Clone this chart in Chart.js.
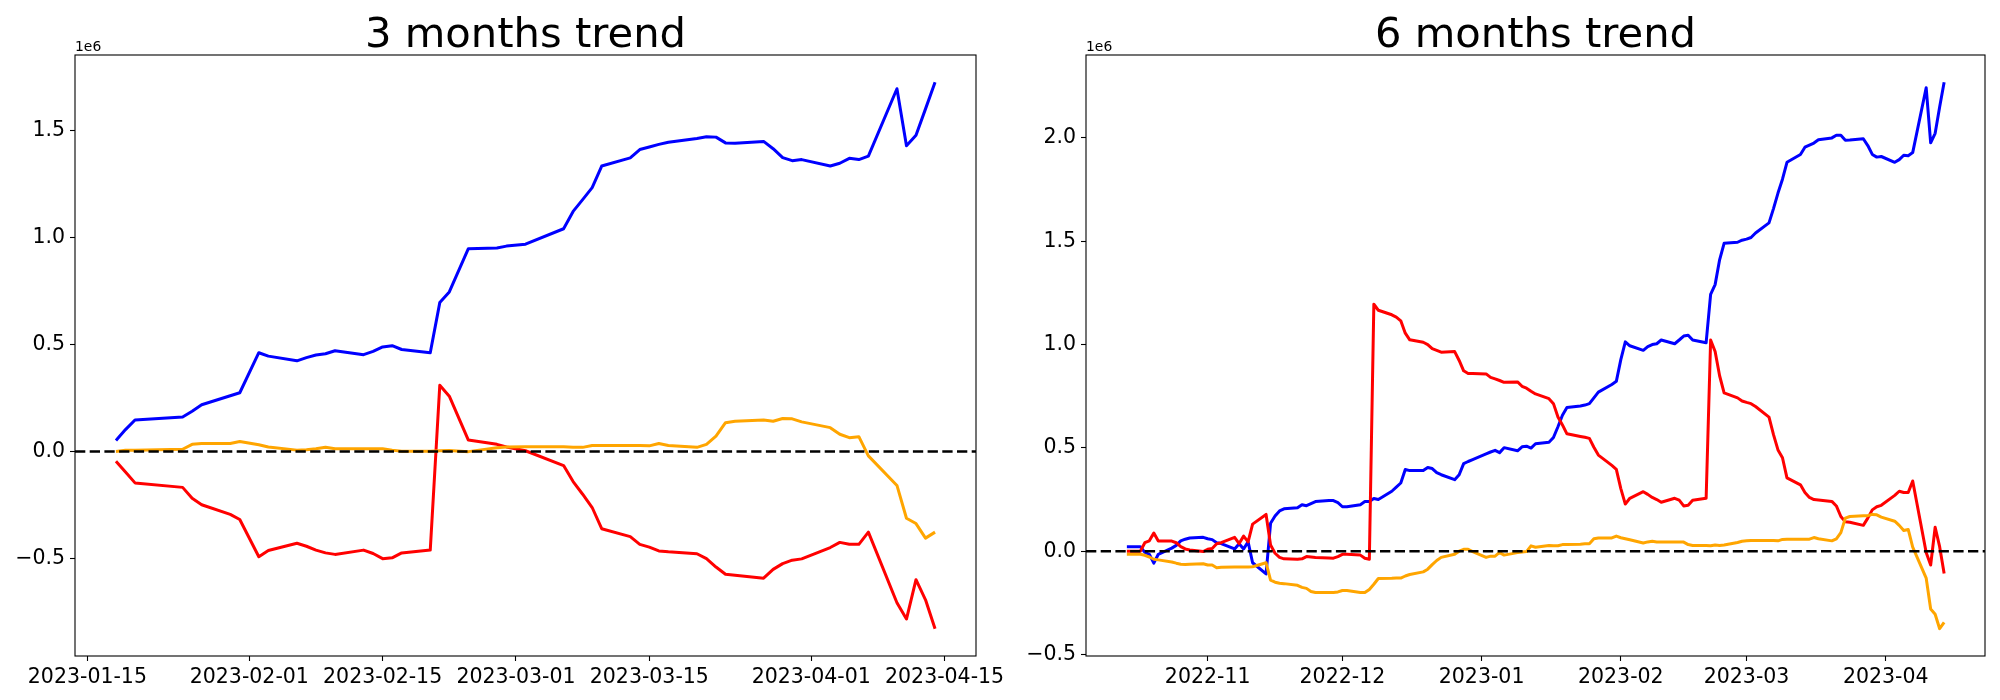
<!DOCTYPE html>
<html><head><meta charset="utf-8">
<script src="https://cdn.jsdelivr.net/npm/chart.js@4.4.0/dist/chart.umd.min.js"></script>
<style>
html,body{margin:0;padding:0;background:#fff;}
#wrap{position:relative;width:2000px;height:700px;overflow:hidden;background:#fff;}
canvas{position:absolute;top:0;}
</style></head><body>
<div id="wrap">
<canvas id="c3" width="1010" height="700" style="left:0;width:1010px;height:700px"></canvas>
<canvas id="c6" width="990" height="700" style="left:1010px;width:990px;height:700px"></canvas>
</div>
<script>
// ---------- 3 months (values in units of 1e6) ----------
const dates3 = [
 '2023-01-18','2023-01-19','2023-01-20','2023-01-25','2023-01-26','2023-01-27','2023-01-30','2023-01-31',
 '2023-02-02','2023-02-03','2023-02-06','2023-02-07','2023-02-08','2023-02-09','2023-02-10','2023-02-13','2023-02-14','2023-02-15','2023-02-16','2023-02-17','2023-02-20','2023-02-21','2023-02-22','2023-02-24','2023-02-27','2023-02-28',
 '2023-03-02','2023-03-06','2023-03-07','2023-03-08','2023-03-09','2023-03-10','2023-03-13','2023-03-14','2023-03-15','2023-03-16','2023-03-17','2023-03-20','2023-03-21','2023-03-22','2023-03-23','2023-03-24','2023-03-27','2023-03-28','2023-03-29','2023-03-30','2023-03-31',
 '2023-04-03','2023-04-04','2023-04-05','2023-04-06','2023-04-07','2023-04-10','2023-04-11','2023-04-12','2023-04-13','2023-04-14'
];
const blue3 = [
 0.051,0.102,0.147,0.161,0.188,0.218,0.260,0.274,
 0.461,0.445,0.423,0.438,0.450,0.456,0.470,0.452,0.467,0.488,0.494,0.476,0.461,0.695,0.745,0.947,0.950,0.959,
 0.968,1.040,1.121,1.176,1.232,1.333,1.371,1.410,1.422,1.434,1.444,1.462,1.470,1.468,1.441,1.439,1.448,1.414,1.372,1.358,1.363,
 1.333,1.346,1.369,1.363,1.379,1.694,1.428,1.477,1.600,1.724
];
const red3 = [
 -0.046,-0.096,-0.147,-0.168,-0.219,-0.249,-0.294,-0.318,
 -0.492,-0.463,-0.429,-0.443,-0.461,-0.474,-0.481,-0.461,-0.477,-0.501,-0.497,-0.474,-0.461,0.309,0.258,0.053,0.033,0.021,
 0.003,-0.066,-0.141,-0.200,-0.262,-0.361,-0.398,-0.434,-0.447,-0.465,-0.469,-0.478,-0.501,-0.540,-0.574,-0.578,-0.592,-0.551,-0.524,-0.508,-0.502,
 -0.449,-0.425,-0.434,-0.434,-0.377,-0.707,-0.783,-0.599,-0.693,-0.828
];
const orange3 = [
 0.000,0.006,0.006,0.010,0.033,0.037,0.037,0.046,
 0.031,0.021,0.006,0.008,0.012,0.019,0.012,0.013,0.013,0.013,0.006,0.001,0.001,0.003,0.004,-0.001,0.017,0.021,
 0.022,0.022,0.019,0.019,0.028,0.028,0.028,0.028,0.026,0.037,0.028,0.019,0.033,0.071,0.134,0.141,0.147,0.141,0.154,0.152,0.138,
 0.111,0.080,0.064,0.069,-0.021,-0.159,-0.312,-0.337,-0.405,-0.377
];
const xTickDates3 = ['2023-01-15','2023-02-01','2023-02-15','2023-03-01','2023-03-15','2023-04-01','2023-04-15'];
const xTickLabels3 = ['2023-01-15','2023-02-01','2023-02-15','2023-03-01','2023-03-15','2023-04-01','2023-04-15'];
const yTicks3 = [-0.5, 0, 0.5, 1.0, 1.5];

// ---------- 6 months (values in units of 1e6) ----------
const dates6 = [
 '2022-10-14',
 '2022-10-17','2022-10-18','2022-10-19','2022-10-20','2022-10-21',
 '2022-10-24','2022-10-25','2022-10-26','2022-10-27','2022-10-28',
 '2022-10-31','2022-11-01','2022-11-02','2022-11-03','2022-11-04',
 '2022-11-07','2022-11-08','2022-11-09','2022-11-10','2022-11-11',
 '2022-11-14','2022-11-15','2022-11-16','2022-11-17','2022-11-18',
 '2022-11-21','2022-11-22','2022-11-23','2022-11-24','2022-11-25',
 '2022-11-28','2022-11-29','2022-11-30','2022-12-01','2022-12-02',
 '2022-12-05','2022-12-06','2022-12-07','2022-12-08','2022-12-09',
 '2022-12-12','2022-12-13','2022-12-14','2022-12-15','2022-12-16',
 '2022-12-19','2022-12-20','2022-12-21','2022-12-22','2022-12-23',
 '2022-12-26','2022-12-27','2022-12-28','2022-12-29','2022-12-30',
 '2023-01-02','2023-01-03','2023-01-04','2023-01-05','2023-01-06',
 '2023-01-09','2023-01-10','2023-01-11','2023-01-12','2023-01-13',
 '2023-01-16','2023-01-17','2023-01-18','2023-01-19','2023-01-20',
 '2023-01-23','2023-01-24','2023-01-25','2023-01-26','2023-01-27',
 '2023-01-30','2023-01-31','2023-02-01','2023-02-02','2023-02-03',
 '2023-02-06','2023-02-07','2023-02-08','2023-02-09','2023-02-10',
 '2023-02-13','2023-02-14','2023-02-15','2023-02-16','2023-02-17',
 '2023-02-20','2023-02-21','2023-02-22','2023-02-23','2023-02-24',
 '2023-02-27','2023-02-28','2023-03-01','2023-03-02','2023-03-03',
 '2023-03-06','2023-03-07','2023-03-08','2023-03-09','2023-03-10',
 '2023-03-13','2023-03-14','2023-03-15','2023-03-16','2023-03-17',
 '2023-03-20','2023-03-21','2023-03-22','2023-03-23','2023-03-24',
 '2023-03-27','2023-03-28','2023-03-29','2023-03-30','2023-03-31',
 '2023-04-03','2023-04-04','2023-04-05','2023-04-06','2023-04-07',
 '2023-04-10','2023-04-11','2023-04-12','2023-04-13','2023-04-14'
];
const blue6 = [
 0.022,
 0.022,-0.006,-0.015,-0.058,-0.015,
 0.015,0.028,0.050,0.058,0.064,
 0.067,0.060,0.056,0.041,0.037,
 0.011,0.036,0.011,0.045,-0.056,
 -0.110,0.135,0.170,0.195,0.205,
 0.210,0.225,0.220,0.230,0.240,
 0.245,0.245,0.235,0.215,0.215,
 0.225,0.240,0.240,0.255,0.250,
 0.290,0.310,0.330,0.395,0.390,
 0.390,0.405,0.400,0.380,0.370,
 0.346,0.370,0.424,0.434,0.443,
 0.471,0.480,0.488,0.477,0.501,
 0.486,0.505,0.508,0.499,0.520,
 0.527,0.550,0.602,0.658,0.695,
 0.703,0.707,0.714,0.742,0.770,
 0.807,0.822,0.927,1.013,0.994,
 0.972,0.990,1.000,1.004,1.022,
 1.004,1.022,1.041,1.045,1.022,
 1.009,1.243,1.290,1.410,1.490,
 1.495,1.505,1.510,1.518,1.540,
 1.589,1.658,1.733,1.800,1.882,
 1.920,1.955,1.965,1.975,1.991,
 2.000,2.013,2.013,1.989,1.990,
 1.996,1.963,1.920,1.907,1.910,
 1.882,1.895,1.916,1.914,1.929,
 2.243,1.976,2.022,2.150,2.269
];
const red6 = [
 0.000,
 0.000,0.041,0.050,0.088,0.049,
 0.049,0.041,0.022,0.011,0.006,
 -0.002,0.009,0.013,0.036,0.041,
 0.067,0.037,0.073,0.045,0.131,
 0.178,0.030,-0.010,-0.030,-0.037,
 -0.039,-0.037,-0.026,-0.028,-0.030,
 -0.033,-0.034,-0.026,-0.015,-0.015,
 -0.019,-0.034,-0.039,1.195,1.166,
 1.144,1.133,1.115,1.055,1.023,
 1.011,1.000,0.980,0.972,0.963,
 0.966,0.923,0.873,0.860,0.860,
 0.858,0.841,0.834,0.826,0.817,
 0.819,0.798,0.789,0.774,0.761,
 0.738,0.714,0.649,0.611,0.568,
 0.555,0.551,0.546,0.503,0.465,
 0.415,0.396,0.303,0.228,0.256,
 0.288,0.275,0.260,0.250,0.237,
 0.256,0.247,0.219,0.222,0.247,
 0.256,1.022,0.966,0.849,0.766,
 0.742,0.727,0.720,0.714,0.700,
 0.649,0.564,0.490,0.452,0.355,
 0.321,0.284,0.260,0.250,0.248,
 0.241,0.219,0.168,0.142,0.140,
 0.125,0.160,0.200,0.215,0.222,
 0.270,0.290,0.284,0.284,0.340,
 -0.006,-0.067,0.116,0.022,-0.108
];
const orange6 = [
 -0.015,
 -0.015,-0.020,-0.028,-0.039,-0.042,
 -0.052,-0.058,-0.063,-0.064,-0.063,
 -0.061,-0.067,-0.067,-0.080,-0.078,
 -0.076,-0.077,-0.077,-0.077,-0.075,
 -0.056,-0.140,-0.150,-0.155,-0.157,
 -0.165,-0.175,-0.180,-0.195,-0.200,
 -0.200,-0.200,-0.197,-0.190,-0.190,
 -0.200,-0.200,-0.185,-0.160,-0.132,
 -0.131,-0.130,-0.130,-0.120,-0.113,
 -0.100,-0.087,-0.065,-0.045,-0.030,
 -0.015,0.000,0.009,0.009,-0.002,
 -0.030,-0.024,-0.024,-0.006,-0.019,
 -0.007,-0.004,-0.002,0.026,0.019,
 0.028,0.026,0.026,0.032,0.032,
 0.034,0.036,0.036,0.060,0.064,
 0.064,0.073,0.065,0.060,0.055,
 0.040,0.045,0.048,0.045,0.045,
 0.045,0.045,0.044,0.032,0.028,
 0.028,0.026,0.030,0.028,0.030,
 0.042,0.048,0.050,0.052,0.052,
 0.052,0.052,0.050,0.057,0.058,
 0.058,0.058,0.058,0.066,0.060,
 0.050,0.060,0.090,0.160,0.168,
 0.172,0.172,0.178,0.176,0.165,
 0.145,0.125,0.100,0.105,0.020,
 -0.130,-0.280,-0.305,-0.375,-0.345
];
const xTickDates6 = ['2022-11-01','2022-12-01','2023-01-01','2023-02-01','2023-03-01','2023-04-01'];
const xTickLabels6 = ['2022-11','2022-12','2023-01','2023-02','2023-03','2023-04'];
const yTicks6 = [-0.5, 0, 0.5, 1.0, 1.5, 2.0];

const COLORS = {blue:'#0000ff', red:'#ff0000', orange:'#ffa500'};
const FONT = 'DejaVu Sans';
Chart.defaults.font.family = FONT;
Chart.defaults.color = '#000';

function toDay(s){ const p = s.split('-').map(Number); return Date.UTC(p[0], p[1]-1, p[2]) / 86400000; }

function makeChart(id, title, dates, blue, red, orange, xTickDates, xTickLabels, yTicks, area){
  const canvas = document.getElementById(id);
  const W = canvas.width;
  const xs = dates.map(toDay);
  const xMinD = Math.min(...xs), xMaxD = Math.max(...xs);
  const xm = (xMaxD - xMinD) * 0.05;
  const all = blue.concat(red, orange);
  const yMinD = Math.min(...all), yMaxD = Math.max(...all);
  const ym = (yMaxD - yMinD) * 0.05;
  const tickVals = xTickDates.map(toDay);
  const mk = (arr) => xs.map((x, i) => ({x: x, y: arr[i]}));
  const ds = (label, arr, color, order) => ({
    label, data: mk(arr), borderColor: color, backgroundColor: color, borderWidth: 3.0,
    pointRadius: 0, tension: 0, fill: false, borderJoinStyle: 'round', borderCapStyle: 'butt', order
  });
  const decor = {
    id: 'decor',
    afterDatasetsDraw(chart){
      const {ctx, chartArea: a, scales: {x, y}} = chart;
      ctx.save();
      const y0 = y.getPixelForValue(0);
      ctx.strokeStyle = '#000'; ctx.lineWidth = 2.5; ctx.setLineDash([10.3, 4.4]);
      ctx.beginPath(); ctx.moveTo(a.left, y0); ctx.lineTo(a.right, y0); ctx.stroke();
      ctx.setLineDash([]); ctx.lineWidth = 1.1;
      ctx.strokeRect(a.left, a.top, a.right - a.left, a.bottom - a.top);
      ctx.restore();
    },
    afterDraw(chart){
      const {ctx, chartArea: a} = chart;
      ctx.save();
      ctx.fillStyle = '#000';
      ctx.font = '41.7px "' + FONT + '"';
      ctx.textAlign = 'center'; ctx.textBaseline = 'alphabetic';
      ctx.fillText(title, (a.left + a.right) / 2, 46.5);
      ctx.font = '13.9px "' + FONT + '"';
      ctx.textAlign = 'left';
      ctx.fillText('1e6', a.left, 50.5);
      ctx.restore();
    }
  };
  return new Chart(canvas, {
    type: 'line',
    data: { datasets: [ ds('blue', blue, COLORS.blue, 3), ds('red', red, COLORS.red, 2), ds('orange', orange, COLORS.orange, 1) ] },
    options: {
      responsive: false, animation: false, devicePixelRatio: 1,
      layout: { padding: { left: 0, right: W - area.right, top: 55, bottom: 0 } },
      plugins: { legend: { display: false }, tooltip: { enabled: false }, title: { display: false } },
      scales: {
        x: {
          type: 'linear', min: xMinD - xm, max: xMaxD + xm,
          border: { display: false },
          grid: { display: true, drawOnChartArea: false, drawTicks: true, tickLength: 5, tickColor: '#000', tickWidth: 1.1 },
          ticks: { font: { size: 20.5 }, color: '#000', padding: 4, maxRotation: 0, minRotation: 0, autoSkip: false,
                   callback: (v) => { const i = tickVals.indexOf(v); return i >= 0 ? xTickLabels[i] : ''; } },
          afterBuildTicks: (s) => { s.ticks = tickVals.map(v => ({value: v})); },
          afterFit: (s) => { s.height = 44; s.paddingLeft = 0; s.paddingRight = 0; }
        },
        y: {
          type: 'linear', min: yMinD - ym, max: yMaxD + ym,
          border: { display: false },
          grid: { display: true, drawOnChartArea: false, drawTicks: true, tickLength: 5, tickColor: '#000', tickWidth: 1.1 },
          ticks: { font: { size: 20.5 }, color: '#000', padding: 5,
                   callback: (v) => v.toFixed(1).replace('-', '\u2212') },
          afterBuildTicks: (s) => { s.ticks = yTicks.map(v => ({value: v})); },
          afterFit: (s) => { s.width = area.left; s.paddingTop = 0; s.paddingBottom = 0; }
        }
      }
    },
    plugins: [decor]
  });
}

makeChart('c3', '3 months trend', dates3, blue3, red3, orange3, xTickDates3, xTickLabels3, yTicks3, {left: 75, right: 976});
makeChart('c6', '6 months trend', dates6, blue6, red6, orange6, xTickDates6, xTickLabels6, yTicks6, {left: 76, right: 975});
</script>
</body></html>
